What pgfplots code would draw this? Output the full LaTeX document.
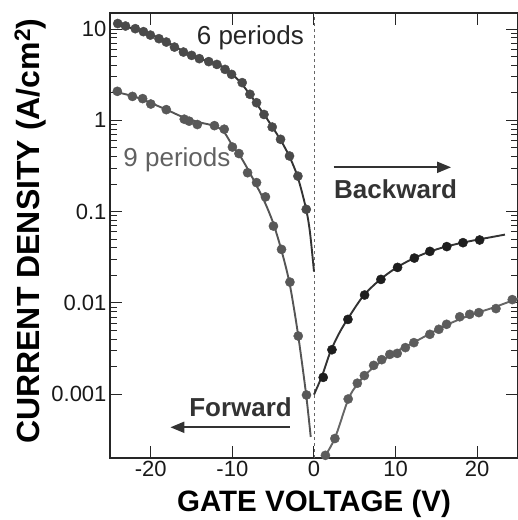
\documentclass[border=0pt]{standalone}
\usepackage{fontspec}
\setmainfont{Liberation Sans}
\usepackage{pgfplots}
\pgfplotsset{compat=1.18}
\usetikzlibrary{arrows.meta}
\definecolor{cA}{HTML}{333333}
\definecolor{cB}{HTML}{555555}
\definecolor{mA}{HTML}{4A4A4A}
\definecolor{mB}{HTML}{585858}
\definecolor{mC}{HTML}{1E1E1E}
\definecolor{mD}{HTML}{5C5C5C}
\begin{document}
\begin{tikzpicture}
\begin{axis}[
 at={(0,0)}, anchor=south west,
 scale only axis, width=408pt, height=445pt,
 xmin=-25, xmax=25, ymode=log, ymin=2e-4, ymax=15,
 xtick={-20,-10,0,10,20}, xticklabels={-20,-10,0,10,20},
 ytick={0.001,0.01,0.1,1,10}, yticklabels={0.001,0.01,0.1,1,10},
 major tick length=12pt, minor tick length=7pt,
 tick style={black!85, line width=1pt},
 axis line style={black!85, line width=1.2pt},
 tick label style={font=\fontsize{22}{25}\selectfont, text=black!90},
 xlabel={GATE VOLTAGE (V)}, ylabel={CURRENT DENSITY (A/cm\textsuperscript{2})},
 x label style={font=\bfseries\fontsize{29.5}{32}\selectfont, at={(axis description cs:0.5,-0.104)}, anchor=center},
 y label style={font=\bfseries\fontsize{32}{34}\selectfont, at={(axis description cs:-0.196,0.51)}, anchor=center},
 clip=true,
]
% dashed reference line at 0 V
\draw[dash pattern=on 3pt off 3pt, black!60, line width=0.9pt] (axis cs:0,2e-4) -- (axis cs:0,15);
% fit lines
\addplot[cA, line width=1.9pt, smooth, no marks] coordinates {
(-24.3,11.4) (-22,10.0) (-20,8.7) (-18,7.2) (-16,5.7) (-14,4.75) (-12,4.15) (-11,3.75) (-10,3.2) (-9,2.6) (-8,2.0) (-7,1.5) (-6,1.12) (-5,0.82) (-4,0.59) (-3,0.40) (-2,0.24) (-1,0.11) (-0.5,0.06) (0,0.022)};
\addplot[cB, line width=1.9pt, smooth, no marks] coordinates {
(-24.3,2.05) (-22,1.82) (-20,1.55) (-18,1.3) (-16,1.08) (-14,0.95) (-12,0.86) (-11,0.74) (-10,0.53) (-9,0.40) (-8,0.28) (-7,0.19) (-6,0.125) (-5,0.075) (-4,0.038) (-3,0.0165) (-2,0.0048) (-1,0.00105) (-0.4,0.00034)};
\addplot[cA, line width=1.9pt, smooth, no marks] coordinates {
(0,0.00099) (1,0.0016) (2,0.0029) (3,0.0045) (4,0.0064) (6,0.0118) (8,0.0177) (10,0.0240) (12,0.0302) (14,0.0360) (16,0.0410) (18,0.0453) (20,0.0492) (23.4,0.0560)};
\addplot[cB!90!white, line width=1.9pt, smooth, no marks] coordinates {
(1.2,0.0002) (2.56,0.00033) (4.2,0.00088) (5.3,0.00128) (6.5,0.0017) (8,0.0022) (10,0.0029) (12,0.0036) (14,0.0045) (16,0.0056) (18,0.0067) (20,0.0078) (22,0.0089) (25,0.0112)};
% data markers
\addplot[only marks, mark=*, mark size=4.6pt, mark options={fill=mA, draw=mA}] coordinates {
(-24.05,11.5) (-23.1,10.8) (-21.9,10.1) (-20.9,9.37) (-20.05,8.59) (-19.0,7.85) (-18.1,7.21) (-17.1,6.35) (-16.0,5.60) (-15.0,5.15) (-14.05,4.74) (-12.9,4.40) (-11.9,4.10) (-10.9,3.62) (-10.1,3.19) (-8.8,2.59) (-7.85,1.93) (-7.04,1.56) (-6.13,1.16) (-5.12,0.845) (-4.1,0.62) (-3.0,0.407) (-1.97,0.245) (-0.95,0.106)};
\addplot[only marks, mark=*, mark size=4.6pt, mark options={fill=mB, draw=mB}] coordinates {
(-24.1,2.08) (-22.25,1.83) (-21.0,1.73) (-20.0,1.51) (-18.1,1.31) (-15.9,1.03) (-15.3,0.98) (-14.3,0.90) (-12.2,0.875) (-11.0,0.80) (-10.0,0.51) (-9.2,0.433) (-8.14,0.267) (-7.04,0.208) (-5.95,0.145) (-4.97,0.0695) (-3.98,0.0386) (-2.95,0.0169) (-1.93,0.00434) (-0.92,0.00098)};
\addplot[only marks, mark=*, mark size=4.6pt, mark options={fill=mC, draw=mC}] coordinates {
(1.13,0.00153) (2.2,0.00307) (4.16,0.0066) (6.2,0.0122) (8.2,0.0181) (10.24,0.0245) (12.3,0.031) (14.2,0.0367) (16.27,0.0414) (18.26,0.0457) (20.3,0.0489)};
\addplot[only marks, mark=*, mark size=4.6pt, mark options={fill=mD, draw=mD}] coordinates {
(1.4,0.000214) (2.56,0.000327) (4.19,0.000886) (5.31,0.00132) (6.17,0.0016) (7.31,0.00207) (8.3,0.00239) (9.29,0.00273) (10.2,0.0028) (11.2,0.00324) (12.24,0.00367) (14.2,0.00453) (15.3,0.00514) (16.25,0.00583) (17.86,0.00705) (19.08,0.0075) (20.2,0.00783) (22.3,0.00867) (24.3,0.01087)};
% annotations
\node[font=\fontsize{26}{28}\selectfont, text=black!85] at (axis cs:-7.8,8.1) {6 periods};
\node[font=\fontsize{26}{28}\selectfont, text=black!62] at (axis cs:-16.8,0.374) {9 periods};
\draw[black!80, line width=2pt, -{Triangle[length=14pt,width=11pt]}] (axis cs:2.4,0.306) -- (axis cs:16.8,0.306);
\node[font=\bfseries\fontsize{26}{28}\selectfont, text=black!80] at (axis cs:10,0.175) {Backward};
\draw[black!80, line width=2pt, -{Triangle[length=14pt,width=11pt]}] (axis cs:-3,0.000434) -- (axis cs:-17.6,0.000434);
\node[font=\bfseries\fontsize{26}{28}\selectfont, text=black!80] at (axis cs:-9,0.00072) {Forward};
\end{axis}
\pgfresetboundingbox
\path (-110pt,-62pt) rectangle (408pt,458pt);
\end{tikzpicture}
\end{document}
